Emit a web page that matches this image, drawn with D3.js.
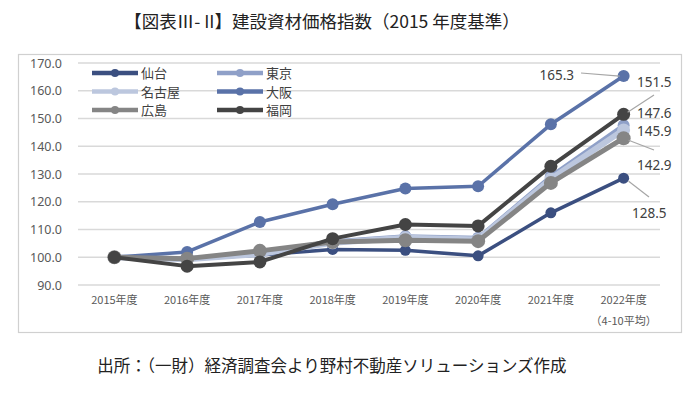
<!doctype html>
<html>
<head>
<meta charset="utf-8">
<title>建設資材価格指数</title>
<script src="https://d3js.org/d3.v7.min.js"></script>
<style>
  body { margin: 0; background: #fff; }
  text { font-family: "Noto Sans CJK JP", "Noto Sans", sans-serif; }
</style>
</head>
<body>
<div id="chart"></div>
<script>
var years = ["2015年度","2016年度","2017年度","2018年度","2019年度","2020年度","2021年度","2022年度"];
var cities = ["仙台","東京","名古屋","大阪","広島","福岡"];
var sendai   = [100, 99.5, 100.8, 102.8, 102.5, 100.5, 116.0, 128.5];
var tokyo    = [100, 99.6, 101.6, 105.8, 107.6, 107.0, 129.2, 147.6];
var nagoya   = [100, 99.3, 101.2, 105.2, 107.0, 106.4, 128.2, 145.9];
var osaka    = [100, 101.9, 112.7, 119.1, 124.8, 125.6, 147.9, 165.3];
var hiroshima= [100, 99.5, 102.3, 105.5, 106.1, 105.8, 126.8, 142.9];
var fukuoka  = [100, 96.8, 98.3, 106.7, 111.8, 111.3, 132.8, 151.5];
var yTicks = [90, 100, 110, 120, 130, 140, 150, 160, 170];

var series = [sendai, tokyo, nagoya, osaka, hiroshima, fukuoka];
var colors = ["#3b4f80", "#8fa0c8", "#bcc7de", "#5a72a8", "#858585", "#444444"];
var widths = [3.5, 4, 6, 3.5, 5, 4];
var radii  = [5.5, 6, 6.5, 6, 7, 6.5];

var width = 700, height = 394;
var svg = d3.select("#chart").append("svg").attr("width", width).attr("height", height);

// title
svg.append("text").attr("x", 322).attr("y", 28).attr("text-anchor", "middle")
  .attr("font-size", 17.5).attr("fill", "#222")
  .text("【図表Ⅲ- II】建設資材価格指数（2015 年度基準）");

// frame
svg.append("rect").attr("x", 18.5).attr("y", 54.5).attr("width", 663).attr("height", 278)
  .attr("fill", "none").attr("stroke", "#d0d0d0").attr("stroke-width", 1.2);

var x = d3.scaleBand().domain(years).range([78, 660]);
var y = d3.scaleLinear().domain([90, 170]).range([285, 63]);

// grid
svg.append("g").selectAll("line").data(yTicks).enter().append("line")
  .attr("x1", 78).attr("x2", 660)
  .attr("y1", function(d){ return y(d); }).attr("y2", function(d){ return y(d); })
  .attr("stroke", "#d9d9d9").attr("stroke-width", 1.3);

var yAxis = d3.axisLeft(y).tickValues(yTicks).tickFormat(d3.format(".1f")).tickSize(0).tickPadding(0);
var yg = svg.append("g").attr("transform", "translate(62,0)").call(yAxis);
yg.select(".domain").remove();
yg.selectAll("text").attr("font-size", 12.5).attr("fill", "#595959")
  .style("font-family", "'Noto Sans', sans-serif");

var xAxis = d3.axisBottom(x).tickSize(0).tickPadding(0);
var xg = svg.append("g").attr("transform", "translate(0,296)").call(xAxis);
xg.select(".domain").remove();
xg.selectAll("text").attr("font-size", 11).attr("fill", "#595959")
  .style("font-family", "'Noto Sans CJK JP', sans-serif");
svg.append("text").attr("x", x("2022年度") + x.bandwidth()/2).attr("y", 325)
  .attr("text-anchor", "middle").attr("font-size", 11).attr("fill", "#595959")
  .text("（4-10平均）");

var line = d3.line()
  .x(function(d, i){ return x(years[i]) + x.bandwidth()/2; })
  .y(function(d){ return y(d); });

series.forEach(function(s, k){
  var g = svg.append("g");
  g.append("path").attr("d", line(s)).attr("fill", "none")
    .attr("stroke", colors[k]).attr("stroke-width", widths[k]).attr("stroke-linejoin", "round");
  g.selectAll("circle").data(s).enter().append("circle")
    .attr("cx", function(d, i){ return x(years[i]) + x.bandwidth()/2; })
    .attr("cy", function(d){ return y(d); })
    .attr("r", radii[k]).attr("fill", colors[k]);
});

// legend
var legend = svg.append("g");
cities.forEach(function(c, k){
  var col = k % 2, row = Math.floor(k / 2);
  var lx = 92 + col * 125, ly = 73 + row * 18.5;
  legend.append("line").attr("x1", lx).attr("x2", lx + 46).attr("y1", ly).attr("y2", ly)
    .attr("stroke", colors[k]).attr("stroke-width", 4.5);
  legend.append("circle").attr("cx", lx + 23).attr("cy", ly).attr("r", 4).attr("fill", colors[k]);
  legend.append("text").attr("x", lx + 49).attr("y", ly + 5).attr("font-size", 13)
    .attr("fill", "#404040").text(c);
});

// end labels: [series index, label x, label y (center), anchor, leader line]
var last = years.length - 1;
var px = x(years[last]) + x.bandwidth()/2;
var labels = [
  {s: 3, lx: 574, ly: 75, anchor: "end", lead: [581, 73, px - 4, y(osaka[last])]},
  {s: 5, lx: 637, ly: 82, anchor: "start", lead: [654, 95, px + 4, y(fukuoka[last]) - 2]},
  {s: 1, lx: 637, ly: 113, anchor: "start"},
  {s: 2, lx: 637, ly: 131, anchor: "start"},
  {s: 4, lx: 637, ly: 165, anchor: "start", lead: [px + 5, y(hiroshima[last]) + 2, 654, 150]},
  {s: 0, lx: 632, ly: 213, anchor: "start", lead: [px + 5, y(sendai[last]) + 3, 649, 197]}
];
labels.forEach(function(l){
  if (l.lead) {
    svg.append("line").attr("x1", l.lead[0]).attr("y1", l.lead[1])
      .attr("x2", l.lead[2]).attr("y2", l.lead[3])
      .attr("stroke", "#a6a6a6").attr("stroke-width", 1.2);
  }
  svg.append("text").attr("x", l.lx).attr("y", l.ly + 5).attr("text-anchor", l.anchor)
    .attr("font-size", 13.5).attr("fill", "#404040")
    .style("font-family", "'Noto Sans', sans-serif")
    .text(d3.format(".1f")(series[l.s][last]));
});

// source
svg.append("text").attr("x", 332).attr("y", 372).attr("text-anchor", "middle")
  .attr("font-size", 16.5).attr("fill", "#222")
  .text("出所：（一財）経済調査会より野村不動産ソリューションズ作成");
</script>
</body>
</html>
